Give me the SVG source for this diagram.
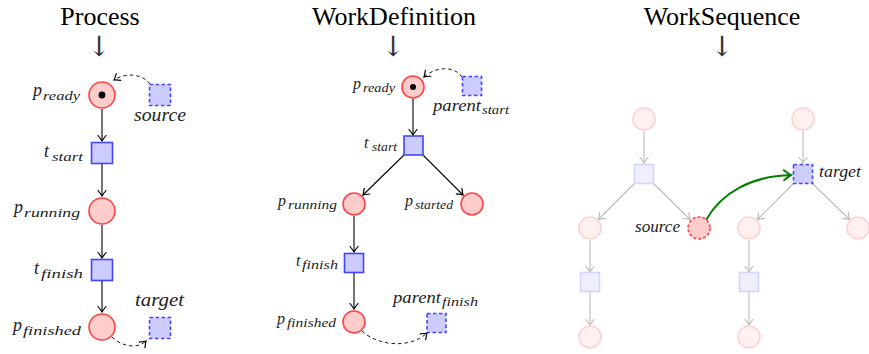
<svg xmlns="http://www.w3.org/2000/svg" width="869" height="354" viewBox="0 0 869 354">
<defs>
<style>
.title{font-family:"Liberation Serif","Times New Roman",serif;font-size:26px;fill:#000;text-anchor:middle}
.darr{font-family:"DejaVu Serif",serif;font-size:28px;fill:#333;text-anchor:middle}
.lbl{font-family:"Liberation Serif","Times New Roman",serif;font-style:italic;font-size:18px;fill:#222}
.lbl .s{font-size:13px}
.lbs{font-family:"Liberation Serif","Times New Roman",serif;font-style:italic;font-size:16px;fill:#222}
.lbs .s{font-size:11.5px}
.pl{fill:#ffcccc;stroke:#ff4444;stroke-width:1.6}
.tr{fill:#ccccff;stroke:#4444ff;stroke-width:1.6}
.trd{fill:#ccccff;stroke:#4444ff;stroke-width:1.6;stroke-dasharray:3.5,2.5}
.pld{fill:#ffcccc;stroke:#ff4444;stroke-width:1.6;stroke-dasharray:3,2}
.fpl{fill:#fff0f0;stroke:#ffd2d2;stroke-width:1.6}
.ftr{fill:#eeeeff;stroke:#d4d4ff;stroke-width:1.6}
.arc{fill:none;stroke:#000;stroke-width:1.1;marker-end:url(#ah)}
.dash{fill:none;stroke:#000;stroke-width:0.9;stroke-dasharray:3.5,3;marker-end:url(#ah)}
.farc{fill:none;stroke:#bbbbbb;stroke-width:1.1;marker-end:url(#ahg)}
.garc{fill:none;stroke:#008000;stroke-width:2;marker-end:url(#ahgr)}
</style>
<marker id="ah" viewBox="-7 -5 9 10" refX="0" refY="0" markerWidth="9" markerHeight="10" markerUnits="userSpaceOnUse" orient="auto">
<path d="M-5.5,-4 Q-1.5,-0.8 0,0 Q-1.5,0.8 -5.5,4" fill="none" stroke="#000" stroke-width="1.2" stroke-linecap="round"/>
</marker>
<marker id="ahg" viewBox="-7 -5 9 10" refX="0" refY="0" markerWidth="9" markerHeight="10" markerUnits="userSpaceOnUse" orient="auto">
<path d="M-5.5,-4 Q-1.5,-0.8 0,0 Q-1.5,0.8 -5.5,4" fill="none" stroke="#bbbbbb" stroke-width="1.2" stroke-linecap="round"/>
</marker>
<marker id="ahgr" viewBox="-9 -6 11 12" refX="0" refY="0" markerWidth="11" markerHeight="12" markerUnits="userSpaceOnUse" orient="auto">
<path d="M-7,-5 Q-2,-1 0,0 Q-2,1 -7,5" fill="none" stroke="#008000" stroke-width="2" stroke-linecap="round"/>
</marker>
</defs>
<rect width="869" height="354" fill="#fff"/>

<g id="titles">
<text class="title" x="100" y="25">Process</text>
<text class="title" x="394" y="25">WorkDefinition</text>
<text class="title" x="722" y="25">WorkSequence</text>
<text class="darr" x="99" y="56">↓</text>
<text class="darr" x="393" y="56">↓</text>
<text class="darr" x="722" y="56">↓</text>
</g>

<g id="connectors">
<!-- Process -->
<line class="arc" x1="102" y1="109" x2="102" y2="141"/>
<line class="arc" x1="102" y1="164" x2="102" y2="196"/>
<line class="arc" x1="102" y1="225" x2="102" y2="258"/>
<line class="arc" x1="102" y1="281" x2="102" y2="312"/>
<path class="dash" d="M150,84 C143,74 126,72 114,80"/>
<path class="dash" d="M112,337 C122,347 138,349 146,341"/>
<!-- WorkDefinition -->
<line class="arc" x1="413" y1="99" x2="413" y2="135"/>
<line class="arc" x1="404" y1="155" x2="363" y2="195"/>
<line class="arc" x1="423" y1="155" x2="463" y2="195"/>
<line class="arc" x1="354" y1="216" x2="354" y2="252"/>
<line class="arc" x1="354" y1="273" x2="354" y2="309"/>
<path class="dash" d="M462,77 C455,66 436,66 424,77"/>
<path class="dash" d="M362,331 C378,346 410,349 427,333"/>
<!-- WorkSequence faded -->
<line class="farc" x1="644" y1="131" x2="644" y2="163"/>
<line class="farc" x1="634.5" y1="183.5" x2="598.5" y2="219.5"/>
<line class="farc" x1="653.5" y1="183.5" x2="690" y2="219.5"/>
<line class="farc" x1="590" y1="240" x2="590" y2="272"/>
<line class="farc" x1="590" y1="292" x2="590" y2="325"/>
<line class="farc" x1="803" y1="131" x2="803" y2="163"/>
<line class="farc" x1="793.5" y1="183.5" x2="757.5" y2="219.5"/>
<line class="farc" x1="812.5" y1="183.5" x2="849.5" y2="219.5"/>
<line class="farc" x1="749" y1="240" x2="749" y2="272"/>
<line class="farc" x1="749" y1="292" x2="749" y2="325"/>
<path class="garc" d="M706,220 C722,192 752,176 791,175"/>
</g>

<!-- Process nodes -->
<g id="proc_p_ready"><circle class="pl" cx="102" cy="95" r="13"/><circle cx="102" cy="95" r="3.4" fill="#000"/>
<text class="lbl" y="96"><tspan x="33">p</tspan><tspan class="s" x="43" y="99.5" textLength="37" lengthAdjust="spacingAndGlyphs">ready</tspan></text></g>
<g id="proc_source"><rect class="trd" x="149.5" y="84.5" width="21" height="21"/><text class="lbl" x="134" y="121" textLength="52" lengthAdjust="spacingAndGlyphs">source</text></g>
<g id="proc_t_start"><rect class="tr" x="91.5" y="142.5" width="21" height="21"/>
<text class="lbl" y="157"><tspan x="44">t</tspan><tspan class="s" x="52" y="160.5" textLength="31" lengthAdjust="spacingAndGlyphs">start</tspan></text></g>
<g id="proc_p_running"><circle class="pl" cx="102" cy="211" r="13"/>
<text class="lbl" y="213"><tspan x="14">p</tspan><tspan class="s" x="24" y="216.5" textLength="56" lengthAdjust="spacingAndGlyphs">running</tspan></text></g>
<g id="proc_t_finish"><rect class="tr" x="91.5" y="259.5" width="21" height="21"/>
<text class="lbl" y="274"><tspan x="34">t</tspan><tspan class="s" x="41" y="277.5" textLength="42" lengthAdjust="spacingAndGlyphs">finish</tspan></text></g>
<g id="proc_p_finished"><circle class="pl" cx="102" cy="327" r="13"/>
<text class="lbl" y="331"><tspan x="13">p</tspan><tspan class="s" x="23" y="334.5" textLength="58" lengthAdjust="spacingAndGlyphs">finished</tspan></text></g>
<g id="proc_target"><rect class="trd" x="149.5" y="317.5" width="21" height="21"/><text class="lbl" x="135" y="306" textLength="49" lengthAdjust="spacingAndGlyphs">target</text></g>

<!-- WorkDefinition nodes -->
<g id="wd_p_ready"><circle class="pl" cx="413" cy="87" r="11"/><circle cx="413" cy="87" r="3" fill="#000"/>
<text class="lbs" y="89"><tspan x="353">p</tspan><tspan class="s" x="363" y="92" textLength="32" lengthAdjust="spacingAndGlyphs">ready</tspan></text></g>
<g id="wd_parent_start"><rect class="trd" x="462.5" y="76.5" width="19" height="19"/>
<text class="lbs" y="111"><tspan x="433" textLength="48" lengthAdjust="spacingAndGlyphs">parent</tspan><tspan class="s" x="482" y="114" textLength="27" lengthAdjust="spacingAndGlyphs">start</tspan></text></g>
<g id="wd_t_start"><rect class="tr" x="404" y="136" width="19" height="19"/>
<text class="lbs" y="148"><tspan x="364">t</tspan><tspan class="s" x="372" y="151" textLength="25" lengthAdjust="spacingAndGlyphs">start</tspan></text></g>
<g id="wd_p_running"><circle class="pl" cx="354" cy="204" r="11"/>
<text class="lbs" y="206"><tspan x="278">p</tspan><tspan class="s" x="288" y="209" textLength="49" lengthAdjust="spacingAndGlyphs">running</tspan></text></g>
<g id="wd_p_started"><circle class="pl" cx="472" cy="204" r="11"/>
<text class="lbs" y="206"><tspan x="405">p</tspan><tspan class="s" x="415" y="209" textLength="38" lengthAdjust="spacingAndGlyphs">started</tspan></text></g>
<g id="wd_t_finish"><rect class="tr" x="344.5" y="253.5" width="19" height="19"/>
<text class="lbs" y="266"><tspan x="296">t</tspan><tspan class="s" x="302" y="269" textLength="36" lengthAdjust="spacingAndGlyphs">finish</tspan></text></g>
<g id="wd_p_finished"><circle class="pl" cx="354" cy="322" r="11"/>
<text class="lbs" y="324"><tspan x="277">p</tspan><tspan class="s" x="287" y="327" textLength="49" lengthAdjust="spacingAndGlyphs">finished</tspan></text></g>
<g id="wd_parent_finish"><rect class="trd" x="427" y="313.5" width="19" height="19"/>
<text class="lbs" y="303"><tspan x="393" textLength="48" lengthAdjust="spacingAndGlyphs">parent</tspan><tspan class="s" x="442" y="306" textLength="36" lengthAdjust="spacingAndGlyphs">finish</tspan></text></g>

<!-- WorkSequence nodes -->
<g id="ws_a_p1"><circle class="fpl" cx="644" cy="119" r="11"/></g>
<g id="ws_a_t1"><rect class="ftr" x="634.5" y="164.5" width="19" height="19"/></g>
<g id="ws_a_p2"><circle class="fpl" cx="590" cy="228" r="11"/></g>
<g id="ws_source"><circle class="pld" cx="699" cy="228" r="11"/><text class="lbs" x="635" y="232" textLength="45" lengthAdjust="spacingAndGlyphs">source</text></g>
<g id="ws_a_t2"><rect class="ftr" x="580.5" y="272.5" width="19" height="19"/></g>
<g id="ws_a_p3"><circle class="fpl" cx="590" cy="337" r="11"/></g>
<g id="ws_b_p1"><circle class="fpl" cx="803" cy="119" r="11"/></g>
<g id="ws_target"><rect class="trd" x="793.5" y="164.5" width="19" height="19"/><text class="lbs" x="819" y="177" textLength="42" lengthAdjust="spacingAndGlyphs">target</text></g>
<g id="ws_b_p2"><circle class="fpl" cx="749" cy="228" r="11"/></g>
<g id="ws_b_p4"><circle class="fpl" cx="858" cy="228" r="11"/></g>
<g id="ws_b_t2"><rect class="ftr" x="739.5" y="272.5" width="19" height="19"/></g>
<g id="ws_b_p3"><circle class="fpl" cx="749" cy="337" r="11"/></g>
</svg>
